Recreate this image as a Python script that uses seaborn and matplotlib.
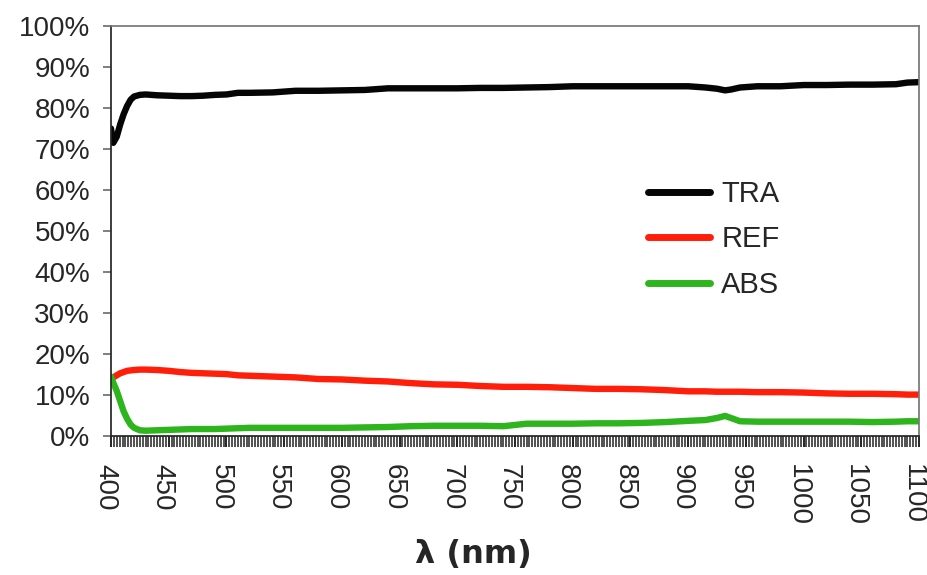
import matplotlib
matplotlib.use("Agg")
import matplotlib.pyplot as plt
import matplotlib.transforms as mtransforms
from matplotlib.ticker import MultipleLocator, FuncFormatter
from matplotlib.lines import Line2D
import seaborn as sns
import pandas as pd

# Wavelength grid (nm) and measured spectra (%)
wavelength = [400, 402, 405, 408, 411, 414, 417, 420, 425, 430, 440, 450, 460, 470,
              480, 490, 500, 510, 520, 540, 560, 580, 600, 620, 640, 660, 680, 700,
              720, 740, 760, 780, 800, 820, 840, 860, 880, 900, 915, 925, 932, 937,
              945, 960, 980, 1000, 1020, 1040, 1060, 1080, 1090, 1100]

tra = [75.0, 71.5, 73.0, 76.0, 78.5, 80.5, 82.0, 82.8, 83.2, 83.3, 83.1, 83.0, 82.9, 82.9,
       83.0, 83.2, 83.3, 83.7, 83.7, 83.8, 84.2, 84.2, 84.3, 84.4, 84.8, 84.8, 84.8, 84.8,
       84.9, 84.9, 85.0, 85.1, 85.3, 85.3, 85.3, 85.3, 85.3, 85.3, 85.0, 84.7, 84.3, 84.5,
       85.0, 85.3, 85.3, 85.6, 85.6, 85.7, 85.7, 85.8, 86.2, 86.3]

ref = [14.0, 14.3, 14.8, 15.3, 15.6, 15.9, 16.0, 16.1, 16.2, 16.2, 16.1, 15.9, 15.6, 15.4,
       15.3, 15.2, 15.1, 14.8, 14.7, 14.5, 14.3, 13.9, 13.8, 13.5, 13.3, 12.9, 12.6, 12.5,
       12.2, 12.0, 12.0, 11.9, 11.7, 11.5, 11.5, 11.4, 11.2, 10.9, 10.9, 10.8, 10.8, 10.8,
       10.8, 10.7, 10.7, 10.6, 10.4, 10.3, 10.3, 10.2, 10.1, 10.1]

absb = [14.5, 13.0, 11.0, 8.5, 6.0, 4.2, 2.8, 2.0, 1.4, 1.3, 1.4, 1.5, 1.6, 1.7,
        1.7, 1.7, 1.8, 1.9, 2.0, 2.0, 2.0, 2.0, 2.0, 2.1, 2.2, 2.4, 2.5, 2.5,
        2.5, 2.4, 3.0, 3.0, 3.0, 3.1, 3.1, 3.2, 3.4, 3.7, 3.9, 4.4, 4.9, 4.4,
        3.6, 3.5, 3.5, 3.5, 3.5, 3.5, 3.4, 3.5, 3.6, 3.6]

series_names = ["TRA", "REF", "ABS"]
colors = {"TRA": "#050505", "REF": "#ff1e0a", "ABS": "#2eb41c"}
x_ticks = list(range(400, 1101, 50))

df = pd.concat([
    pd.DataFrame({"wl": wavelength, "val": vals, "series": name})
    for name, vals in zip(series_names, [tra, ref, absb])
], ignore_index=True)

sns.set_theme(style="ticks")
plt.rcParams["font.family"] = ["Liberation Sans", "DejaVu Sans"]

fig = plt.figure(figsize=(9.27, 5.75), dpi=100)
ax = fig.add_axes([0.1197, 0.2417, 0.8717, 0.7131])

sns.lineplot(data=df, x="wl", y="val", hue="series", palette=colors,
             linewidth=4.6, legend=False, ax=ax)

ax.set_xlim(400, 1100)
ax.set_ylim(0, 100)
ax.set_xticks(x_ticks)
ax.xaxis.set_minor_locator(MultipleLocator(2.5))
ax.set_yticks(list(range(0, 101, 10)))
ax.yaxis.set_major_formatter(FuncFormatter(lambda v, p: f"{v:.0f}%"))
ax.set_xlabel("")
ax.set_ylabel("")

for side in ["top", "right"]:
    ax.spines[side].set_edgecolor("#777777")

handles = [Line2D([0], [0], color=colors[n], lw=5) for n in series_names]
ax.legend(handles, series_names, loc="upper left", bbox_to_anchor=(0.665, 0.625),
          frameon=False, fontsize=21, handlelength=2.1, handletextpad=0.4,
          labelspacing=0.6, borderaxespad=0, borderpad=0)

fig.text(473 / 927, 1 - 555 / 575, "λ (nm)", fontsize=23, fontweight="bold",
         family=["DejaVu Sans"], ha="center", va="center")

# tick labels: rotated wavelengths below, percentages on the left
ax.tick_params(axis="x", which="major", labelsize=20, pad=12, labelrotation=-90)
ax.tick_params(axis="y", which="major", labelsize=20, pad=9)

# tick marks: dense wavelength ticks under the axis, short percent ticks
ax.tick_params(axis="both", which="both", length=8, width=1.2, color="black")
ax.tick_params(axis="x", which="minor", length=8, width=1.2, color="#333333")
ax.tick_params(axis="y", which="major", length=6, width=1.2, color="dimgray")

# centre the rotated wavelength labels and nudge them left so "1100" stays inside
shift = mtransforms.ScaledTranslation(-6 / 100, 0, fig.dpi_scale_trans)
for lbl in ax.get_xticklabels():
    lbl.set_horizontalalignment("center")
    lbl.set_verticalalignment("top")
    lbl.set_transform(lbl.get_transform() + shift)

fig.savefig("out.png", dpi=100)
